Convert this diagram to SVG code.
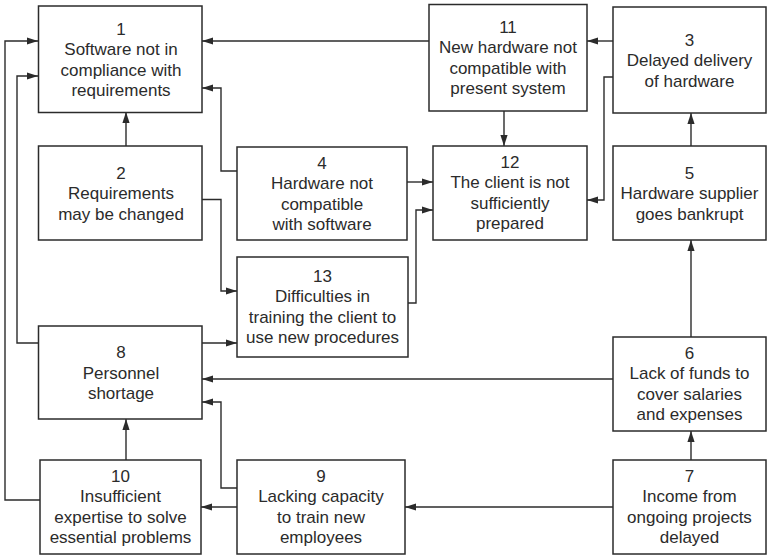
<svg xmlns="http://www.w3.org/2000/svg" width="767" height="555" viewBox="0 0 767 555">
  <defs>
    <style>
      .box { fill: #ffffff; stroke: #2b2b2b; stroke-width: 1.5; }
      .lbl { font-family: "Liberation Sans", Arial, Helvetica, sans-serif; font-size: 17px; fill: #2b2b2b; text-anchor: middle; }
      .edge { fill: none; stroke: #2b2b2b; stroke-width: 1.4; marker-end: url(#arrow); }
    </style>
    <marker id="arrow" markerUnits="userSpaceOnUse" markerWidth="11" markerHeight="8" refX="11" refY="4" orient="auto">
      <path d="M0,0.4 L11,4 L0,7.6 z" fill="#2b2b2b"/>
    </marker>
  </defs>
  <rect width="767" height="555" fill="#ffffff"/>

  <!-- connectors -->
  <g id="connectors">
    <path class="edge" d="M429,41 H202"/>
    <path class="edge" d="M613,41 H587"/>
    <path class="edge" d="M237,171 H221 V88 H202"/>
    <path class="edge" d="M126,146 V112"/>
    <path class="edge" d="M202,199.5 H221 V291 H237"/>
    <path class="edge" d="M40,500 H5 V41 H38"/>
    <path class="edge" d="M38,343 H17 V76 H38"/>
    <path class="edge" d="M202,343 H237"/>
    <path class="edge" d="M613,379 H202"/>
    <path class="edge" d="M237,488 H221 V402 H202"/>
    <path class="edge" d="M237,507 H201"/>
    <path class="edge" d="M126,460 V419"/>
    <path class="edge" d="M613,507 H405"/>
    <path class="edge" d="M691,460 V431"/>
    <path class="edge" d="M691,337 V240"/>
    <path class="edge" d="M691,146 V113"/>
    <path class="edge" d="M504,111 V146"/>
    <path class="edge" d="M613,77 H604 V200 H587"/>
    <path class="edge" d="M407,182 H433"/>
    <path class="edge" d="M408,303 H416 V210 H433"/>
  </g>

  <!-- nodes -->
  <g id="node1">
    <rect class="box" x="38.5" y="6" width="163.5" height="106.5"/>
    <text class="lbl" x="121" y="34.5">1</text>
    <text class="lbl" x="121" y="55">Software not in</text>
    <text class="lbl" x="121" y="75.5">compliance with</text>
    <text class="lbl" x="121" y="96">requirements</text>
  </g>
  <g id="node2">
    <rect class="box" x="38.5" y="146" width="163.5" height="94"/>
    <text class="lbl" x="121" y="178.5">2</text>
    <text class="lbl" x="121" y="199">Requirements</text>
    <text class="lbl" x="121" y="219.5">may be changed</text>
  </g>
  <g id="node3">
    <rect class="box" x="613" y="7" width="153" height="106"/>
    <text class="lbl" x="689.5" y="45.5">3</text>
    <text class="lbl" x="689.5" y="66">Delayed delivery</text>
    <text class="lbl" x="689.5" y="86.5">of hardware</text>
  </g>
  <g id="node4">
    <rect class="box" x="237" y="147" width="170" height="93"/>
    <text class="lbl" x="322" y="168.5">4</text>
    <text class="lbl" x="322" y="189">Hardware not</text>
    <text class="lbl" x="322" y="209.5">compatible</text>
    <text class="lbl" x="322" y="230">with software</text>
  </g>
  <g id="node5">
    <rect class="box" x="613" y="146" width="153" height="94"/>
    <text class="lbl" x="689.5" y="178.5">5</text>
    <text class="lbl" x="689.5" y="199">Hardware supplier</text>
    <text class="lbl" x="689.5" y="219.5">goes bankrupt</text>
  </g>
  <g id="node6">
    <rect class="box" x="613" y="337" width="153" height="94"/>
    <text class="lbl" x="689.5" y="358.5">6</text>
    <text class="lbl" x="689.5" y="379">Lack of funds to</text>
    <text class="lbl" x="689.5" y="399.5">cover salaries</text>
    <text class="lbl" x="689.5" y="420">and expenses</text>
  </g>
  <g id="node7">
    <rect class="box" x="613" y="460" width="153" height="94"/>
    <text class="lbl" x="689.5" y="481.5">7</text>
    <text class="lbl" x="689.5" y="502">Income from</text>
    <text class="lbl" x="689.5" y="522.5">ongoing projects</text>
    <text class="lbl" x="689.5" y="543">delayed</text>
  </g>
  <g id="node8">
    <rect class="box" x="38.5" y="326" width="163.5" height="93"/>
    <text class="lbl" x="121" y="358">8</text>
    <text class="lbl" x="121" y="378.5">Personnel</text>
    <text class="lbl" x="121" y="399">shortage</text>
  </g>
  <g id="node9">
    <rect class="box" x="237" y="460" width="168" height="94"/>
    <text class="lbl" x="321" y="481.5">9</text>
    <text class="lbl" x="321" y="502">Lacking capacity</text>
    <text class="lbl" x="321" y="522.5">to train new</text>
    <text class="lbl" x="321" y="543">employees</text>
  </g>
  <g id="node10">
    <rect class="box" x="40" y="460" width="161" height="94"/>
    <text class="lbl" x="120.5" y="481.5">10</text>
    <text class="lbl" x="120.5" y="502">Insufficient</text>
    <text class="lbl" x="120.5" y="522.5">expertise to solve</text>
    <text class="lbl" x="120.5" y="543">essential problems</text>
  </g>
  <g id="node11">
    <rect class="box" x="429" y="4.5" width="158" height="106.5"/>
    <text class="lbl" x="508" y="32.5">11</text>
    <text class="lbl" x="508" y="53">New hardware not</text>
    <text class="lbl" x="508" y="73.5">compatible with</text>
    <text class="lbl" x="508" y="94">present system</text>
  </g>
  <g id="node12">
    <rect class="box" x="433" y="146" width="154" height="94"/>
    <text class="lbl" x="510" y="167.5">12</text>
    <text class="lbl" x="510" y="188">The client is not</text>
    <text class="lbl" x="510" y="208.5">sufficiently</text>
    <text class="lbl" x="510" y="229">prepared</text>
  </g>
  <g id="node13">
    <rect class="box" x="237" y="257" width="171" height="100"/>
    <text class="lbl" x="322.5" y="281.5">13</text>
    <text class="lbl" x="322.5" y="302">Difficulties in</text>
    <text class="lbl" x="322.5" y="322.5">training the client to</text>
    <text class="lbl" x="322.5" y="343">use new procedures</text>
  </g>
</svg>
